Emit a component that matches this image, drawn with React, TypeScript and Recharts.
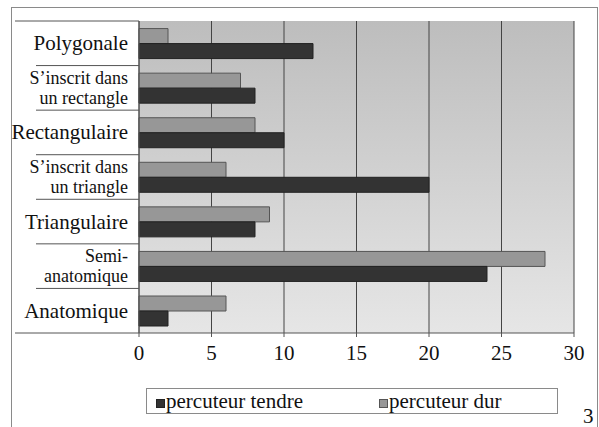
import { BarChart, Bar, XAxis, YAxis, CartesianGrid } from 'recharts';

const categories = [
  'Polygonale',
  'S’inscrit dans|un rectangle',
  'Rectangulaire',
  'S’inscrit dans|un triangle',
  'Triangulaire',
  'Semi-|anatomique',
  'Anatomique',
];
const percuteurDur = [2, 7, 8, 6, 9, 28, 6];
const percuteurTendre = [12, 8, 10, 20, 8, 24, 2];
const xTicks = [0, 5, 10, 15, 20, 25, 30];

const series = [
  { key: 'tendre', name: 'percuteur tendre', fill: '#333333', stroke: '#222222' },
  { key: 'dur', name: 'percuteur dur', fill: '#979797', stroke: '#555555' },
];

const data = categories.map((c, i) => ({
  cat: c,
  dur: percuteurDur[i],
  tendre: percuteurTendre[i],
}));

const FONT = "'Liberation Serif', 'DejaVu Serif', 'Times New Roman', Times, serif";
const W = 599;
const H = 427;
const TOP = 21;
const PLOT_BOTTOM = 333;
const BAND = (PLOT_BOTTOM - TOP) / categories.length;

const CatTick = (props: any) => {
  const { x, y, payload, index } = props;
  const lines = String(payload.value).split('|');
  const top = y - BAND / 2;
  const bottom = y + BAND / 2;
  return (
    <g>
      <line x1={index === 0 ? 15 : 36} x2={139} y1={top} y2={top} stroke="#555" strokeWidth={1} />
      {index === categories.length - 1 && (
        <line x1={15} x2={139} y1={bottom} y2={bottom} stroke="#555" strokeWidth={1} />
      )}
      {lines.map((l, i) => (
        <text
          key={i}
          x={x - 3}
          y={y + (i - (lines.length - 1) / 2) * 20.5}
          textAnchor="end"
          dominantBaseline="central"
          fontFamily={FONT}
          fontSize={lines.length > 1 ? 18 : 21}
          fill="#111"
        >
          {l}
        </text>
      ))}
    </g>
  );
};

export default function App() {
  return (
    <div style={{ position: 'absolute', left: 0, top: 0, width: W, height: H, background: '#fff', fontFamily: FONT }}>
      <div
        style={{
          position: 'absolute',
          left: 11,
          top: 7,
          width: 585,
          height: 440,
          border: '1px solid #8a8a8a',
        }}
      />
      <div style={{ position: 'absolute', left: 0, top: 0 }}>
        <BarChart
          width={W}
          height={H}
          data={data}
          layout="vertical"
          margin={{ top: TOP, right: 25, left: 0, bottom: 0 }}
          barCategoryGap="17%"
          barGap={0}
        >
          <defs>
            <linearGradient id="plotBg" x1="0" y1="0" x2="0" y2="1">
              <stop offset="0%" stopColor="#bdbdbd" />
              <stop offset="100%" stopColor="#e6e6e6" />
            </linearGradient>
          </defs>
          <CartesianGrid
            horizontal={false}
            vertical={true}
            stroke="#444"
            fill="url(#plotBg)"
            fillOpacity={1}
          />
          <XAxis
            type="number"
            domain={[0, 30]}
            ticks={xTicks}
            height={94}
            axisLine={{ stroke: '#555' }}
            tickLine={{ stroke: '#555' }}
            tickSize={4}
            tickMargin={8}
            tick={{ fontFamily: FONT, fontSize: 21, fill: '#111' }}
          />
          <YAxis
            type="category"
            dataKey="cat"
            width={139}
            axisLine={{ stroke: '#555' }}
            tickLine={false}
            tick={<CatTick />}
          />
          <Bar dataKey="dur" name="percuteur dur" fill={series[1].fill} stroke={series[1].stroke} isAnimationActive={false} />
          <Bar dataKey="tendre" name="percuteur tendre" fill={series[0].fill} stroke={series[0].stroke} isAnimationActive={false} />
        </BarChart>
      </div>
      <div
        style={{
          position: 'absolute',
          left: 146,
          top: 388,
          width: 410,
          height: 24,
          border: '1px solid #8a8a8a',
          background: '#fff',
        }}
      >
        {series.map((s, i) => (
          <div
            key={s.key}
            style={{
              position: 'absolute',
              left: i === 0 ? 9 : 232,
              top: 0,
              height: 24,
              display: 'flex',
              alignItems: 'center',
              fontSize: 21,
              color: '#111',
              whiteSpace: 'nowrap',
            }}
          >
            <span
              style={{
                display: 'inline-block',
                width: 7,
                height: 7,
                background: s.fill,
                border: `1px solid ${s.stroke}`,
                marginRight: 1,
                marginTop: 4,
              }}
            />
            {s.name}
          </div>
        ))}
      </div>
      <div style={{ position: 'absolute', left: 583, top: 404, fontSize: 21, color: '#111' }}>3</div>
    </div>
  );
}
